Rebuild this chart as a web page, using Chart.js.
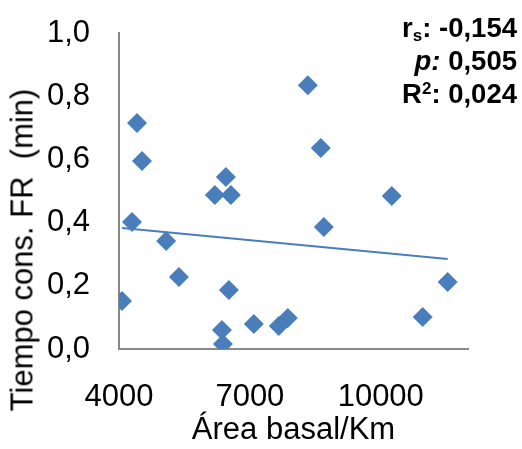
<!DOCTYPE html>
<html><head><meta charset="utf-8">
<script src="https://cdn.jsdelivr.net/npm/chart.js@4/dist/chart.umd.min.js"></script>
<style>
html,body{margin:0;padding:0;background:#fff;}
#wrap{position:relative;width:522px;height:449px;overflow:hidden;}
#c{position:absolute;left:0;top:0;}
.stat{position:absolute;right:5px;font:bold 27.5px "Liberation Sans",Arial,sans-serif;color:#000;line-height:33px;height:33px;text-align:right;white-space:nowrap;}
.stat sub{font-size:62%;line-height:0;vertical-align:-0.25em;}
.stat sup{font-size:62%;line-height:0;vertical-align:0.55em;}
#ytitle{position:absolute;left:22px;top:250px;font:31px "Liberation Sans",Arial,sans-serif;line-height:31px;color:#000;white-space:pre;transform:translate(-50%,-50%) rotate(-90deg);}
</style>
</head><body>
<div id="wrap">
<canvas id="c" width="522" height="449"></canvas>
<div id="ytitle">Tiempo cons. FR  (min)</div>
<div class="stat" style="top:11px">r<sub>s</sub>: -0,154</div>
<div class="stat" style="top:44px"><i>p:</i> 0,505</div>
<div class="stat" style="top:77px">R<sup>2</sup>: 0,024</div>
</div>
<script>
const areaBasal = [4069, 4298, 4412, 4527, 5080, 5374, 6198, 6450, 6565, 6359, 6382, 6519, 7092, 7664, 7870, 8328, 8626, 8695, 10252, 10962, 11534];
const tiempoFR  = [0.152, 0.402, 0.715, 0.595, 0.342, 0.228, 0.487, 0.544, 0.487, 0.060, 0.016, 0.187, 0.079, 0.073, 0.098, 0.835, 0.636, 0.386, 0.484, 0.101, 0.212];
const trendX = [4069, 11534];
const trendY = [0.383, 0.285];
const xTicks = [4000, 7000, 10000];
const yTicks = [0, 0.2, 0.4, 0.6, 0.8, 1.0];

const blue = '#4A7EBB';
const axisGray = '#898989';
const font = 'Liberation Sans';

const pts = areaBasal.map((x, i) => ({x: x, y: tiempoFR[i]}));
const trend = trendX.map((x, i) => ({x: x, y: trendY[i]}));

new Chart(document.getElementById('c'), {
  type: 'scatter',
  data: {
    datasets: [
      {
        label: 'Tiempo',
        data: pts,
        pointStyle: 'rectRot',
        pointRadius: 10,
        pointHoverRadius: 10,
        backgroundColor: blue,
        borderColor: blue,
        borderWidth: 0
      },
      {
        label: 'Tendencia',
        type: 'line',
        data: trend,
        borderColor: blue,
        borderWidth: 2,
        pointRadius: 0,
        fill: false
      }
    ]
  },
  options: {
    responsive: false,
    animation: false,
    events: [],
    layout: {padding: {left: 0, right: 54, top: 33, bottom: 0}},
    plugins: {legend: {display: false}, tooltip: {enabled: false}},
    scales: {
      x: {
        type: 'linear',
        min: 4000,
        max: 12000,
        afterBuildTicks: s => { s.ticks = xTicks.map(v => ({value: v})); },
        afterFit: s => { s.height = 100; s.paddingLeft = 0; s.paddingRight = 0; },
        grid: {display: false, drawTicks: false},
        border: {display: true, color: axisGray, width: 2},
        ticks: {color: '#000', font: {family: font, size: 31}, padding: 30, maxRotation: 0, autoSkip: false,
          callback: v => String(v)},
        title: {display: true, text: 'Área basal/Km', color: '#000', font: {family: font, size: 31}, padding: {top: -6, bottom: 0}}
      },
      y: {
        type: 'linear',
        min: 0,
        max: 1.0,
        afterBuildTicks: s => { s.ticks = yTicks.map(v => ({value: v})); },
        afterFit: s => { s.width = 119; s.paddingTop = 0; s.paddingBottom = 0; },
        grid: {display: false, drawTicks: false},
        border: {display: true, color: axisGray, width: 2},
        ticks: {color: '#000', font: {family: font, size: 31}, padding: 29,
          callback: v => Number(v).toFixed(1).replace('.', ',')}
      }
    }
  }
});
</script>
</body></html>
